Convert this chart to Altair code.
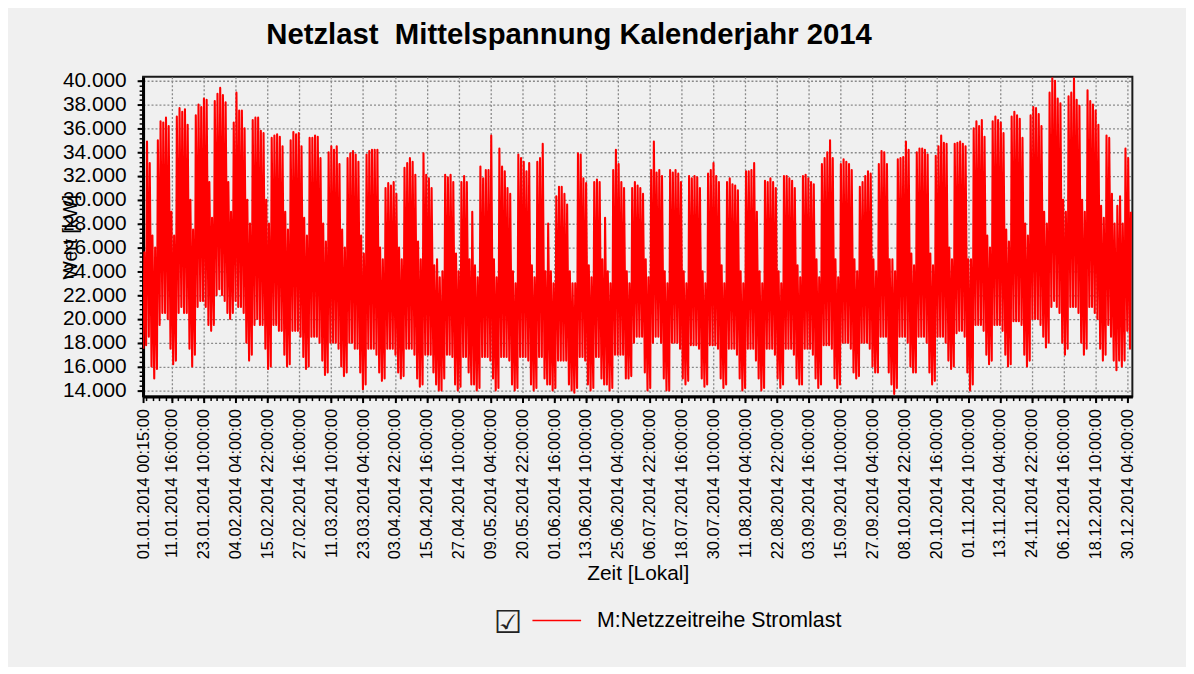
import altair as alt
import pandas as pd
from datetime import datetime, timedelta

# ---- daily maxima / minima (kW) ----
jan_max = [25600, 34900, 33100, 27000, 26000, 35000, 36600, 36500, 36900, 36200, 29000, 27000, 37000, 37700, 37400, 37600,
           36300, 30000, 27500, 37100, 38000, 37800, 38500, 38400, 31500, 28500, 38300, 38900, 39400, 38800, 38200]
jan_min = [17500, 17800, 18500, 16000, 15000, 15800, 19500, 20500, 20500, 20000, 17500, 16200, 16500, 20500, 21000, 20500,
           20500, 17500, 16000, 17000, 21000, 21500, 21500, 21000, 19500, 19000, 19500, 22000, 22500, 22000, 21500]
feb_max = [31500, 29000, 36500, 39000, 37500, 37500, 36000, 30000, 28000, 36700, 36900, 36900, 35800, 35600, 30000, 28000,
           35200, 35400, 35500, 35300, 34500, 29000, 27500, 35000, 35700, 35500, 35600, 34500]
feb_min = [20500, 20000, 20500, 21500, 21000, 21000, 20500, 18000, 16500, 17000, 19500, 20000, 19500, 19500, 17500, 15800,
           16000, 19500, 19500, 19000, 19000, 17000, 16000, 16200, 19000, 19000, 19000, 18500]
mar_max = [28500, 27000, 35200, 35200, 35400, 35300, 33500, 28000, 26500, 34000, 34500, 34200, 34500, 33000, 27500, 26000,
           33500, 33900, 34100, 33800, 33200, 27000, 25500, 33800, 34100, 34200, 34200, 34200, 26000, 25000, 31000]
mar_min = [16800, 15800, 16000, 18500, 18500, 18500, 18000, 16500, 15300, 15500, 18000, 18000, 18000, 17500, 16000, 15200,
           15500, 18000, 18000, 17500, 17500, 15500, 14100, 14500, 17500, 17500, 17500, 17000, 15500, 14800, 15000]
apr_max = [31400, 31200, 31500, 30500, 26000, 25000, 32700, 33100, 33500, 33200, 32100, 26500, 25000, 33900, 32100, 31800,
           31000, 24500, 25000, 23500, 24000, 32100, 31900, 32100, 31500, 25500, 24000, 31500, 32000, 31500]
apr_min = [17500, 17500, 17500, 17000, 15500, 15000, 15200, 17500, 17500, 17500, 17000, 15000, 14300, 14500, 17000, 17000,
           17000, 15500, 14500, 14000, 14000, 15000, 17000, 17000, 16800, 14500, 14000, 14300, 16800, 16800]
may_max = [25000, 29000, 24500, 23500, 32800, 31800, 32500, 32500, 35400, 25000, 23500, 34300, 32800, 32400, 31000, 30500,
           24000, 23000, 33800, 33500, 33200, 32400, 33100, 24500, 23500, 33200, 33500, 34700, 24000, 28000, 24000]
may_min = [15500, 14500, 14500, 14000, 14200, 16800, 16800, 16800, 16500, 15000, 14000, 14200, 16800, 16800, 16800, 16500,
           14500, 14000, 14200, 16800, 16800, 16800, 16500, 14500, 14000, 14200, 16800, 16800, 15000, 14500, 14500]
jun_max = [23000, 30300, 31100, 31100, 30500, 29600, 24000, 23000, 23000, 33900, 33800, 31800, 31400, 24500, 23500, 31500,
           31700, 31500, 25000, 28500, 24000, 23000, 32500, 34200, 33000, 31500, 31000, 24000, 23000, 31000]
jun_min = [14000, 14200, 16500, 16500, 16500, 16500, 14500, 14000, 13800, 14200, 16800, 16800, 16500, 14500, 14000, 14200,
           16800, 16800, 15000, 14500, 14500, 14000, 14200, 17000, 17000, 17000, 17000, 15000, 15000, 15200]
jul_max = [31500, 31200, 31000, 30500, 25000, 23500, 32500, 34900, 32300, 32500, 32000, 24000, 23000, 32500, 32300, 32500,
           32200, 31500, 24000, 23000, 32000, 31800, 32000, 31900, 31000, 24000, 23000, 32200, 32500, 33100, 32000]
jul_min = [18000, 18500, 18500, 18500, 15500, 14000, 14200, 18000, 18500, 18500, 18000, 15000, 14000, 14000, 18000, 18000,
           18000, 17500, 15000, 14500, 14800, 17800, 17800, 17800, 17500, 15000, 14300, 14500, 17800, 17800, 17800]
aug_max = [31500, 24500, 23000, 31500, 31800, 31300, 31200, 30800, 24000, 23000, 32400, 32400, 32500, 33100, 29000, 24000,
           23000, 31600, 31500, 31800, 31500, 31000, 24000, 23000, 32000, 32000, 31800, 31600, 31000, 24500, 23500]
aug_min = [17500, 15000, 14200, 14500, 17500, 17500, 17500, 17000, 15000, 14000, 14200, 17500, 17500, 17500, 16500, 15000,
           14000, 14200, 17500, 17500, 17500, 17000, 15000, 14200, 14500, 17500, 17500, 17500, 17000, 15000, 14500]
sep_max = [32000, 32100, 31800, 31500, 31300, 25000, 23500, 33000, 33500, 34000, 35000, 33500, 25000, 23500, 33000, 33400,
           33200, 33000, 32500, 25000, 24000, 31100, 31500, 32000, 32400, 32200, 25000, 24000, 33000, 34100]
sep_min = [14500, 17500, 17500, 17500, 17000, 15000, 14200, 14500, 17800, 17800, 17800, 17500, 15000, 14200, 14500, 18000,
           18000, 18000, 17500, 15500, 15000, 15200, 18000, 18000, 18000, 17500, 16000, 15500, 15500, 18500]
oct_max = [34000, 33000, 25000, 25000, 24000, 33400, 33500, 33600, 34900, 34200, 25500, 24500, 34000, 34300, 34300, 34200,
           33800, 25500, 24500, 33700, 34500, 35400, 34800, 34700, 26000, 25000, 34700, 34800, 34900, 34700, 34500]
oct_min = [18500, 18500, 15500, 14500, 13700, 14200, 18500, 18500, 18500, 18000, 16000, 15500, 15500, 18500, 18500, 18500,
           18000, 15500, 14500, 14800, 18500, 18500, 18500, 18000, 16500, 15800, 16000, 18800, 19000, 19000, 18500]
nov_max = [25000, 25000, 36000, 36600, 36200, 36700, 35300, 27000, 26000, 36600, 37000, 36700, 36500, 35600, 27500, 26500,
           37000, 37400, 37100, 36800, 35200, 28000, 27000, 37100, 37800, 37700, 37200, 36200, 29000, 28000]
nov_min = [15500, 14000, 14500, 19500, 19500, 19500, 19000, 17000, 16200, 16500, 19500, 19500, 19500, 19000, 17000, 16000,
           16200, 19800, 19800, 19800, 19500, 17000, 16000, 16500, 20000, 20000, 20000, 19500, 18500, 17600]
dec_max = [39000, 40200, 40000, 38500, 38100, 30000, 29000, 38700, 39000, 40200, 38400, 37900, 30000, 29000, 39200, 38300,
           38000, 37500, 36300, 29500, 28500, 35400, 35200, 30500, 28000, 29500, 30300, 28000, 34300, 33500, 29000]
dec_min = [18000, 21000, 21500, 21000, 20500, 18000, 17000, 17500, 21000, 21000, 21000, 20500, 18000, 17000, 17500, 21000,
           21000, 20500, 20000, 17500, 16500, 17000, 19500, 18500, 16500, 15700, 16500, 16000, 16500, 19000, 17500]

series_name = "M:Netzzeitreihe Stromlast"

x_tick_labels = [
    "01.01.2014 00:15:00", "11.01.2014 16:00:00", "23.01.2014 10:00:00", "04.02.2014 04:00:00",
    "15.02.2014 22:00:00", "27.02.2014 16:00:00", "11.03.2014 10:00:00", "23.03.2014 04:00:00",
    "03.04.2014 22:00:00", "15.04.2014 16:00:00", "27.04.2014 10:00:00", "09.05.2014 04:00:00",
    "20.05.2014 22:00:00", "01.06.2014 16:00:00", "13.06.2014 10:00:00", "25.06.2014 04:00:00",
    "06.07.2014 22:00:00", "18.07.2014 16:00:00", "30.07.2014 10:00:00", "11.08.2014 04:00:00",
    "22.08.2014 22:00:00", "03.09.2014 16:00:00", "15.09.2014 10:00:00", "27.09.2014 04:00:00",
    "08.10.2014 22:00:00", "20.10.2014 16:00:00", "01.11.2014 10:00:00", "13.11.2014 04:00:00",
    "24.11.2014 22:00:00", "06.12.2014 16:00:00", "18.12.2014 10:00:00", "30.12.2014 04:00:00",
]
y_tick_values = [14000, 16000, 18000, 20000, 22000, 24000, 26000, 28000, 30000, 32000, 34000, 36000, 38000, 40000]

# ---- build table ----
months = [(1, jan_max, jan_min), (2, feb_max, feb_min), (3, mar_max, mar_min), (4, apr_max, apr_min),
          (5, may_max, may_min), (6, jun_max, jun_min), (7, jul_max, jul_min), (8, aug_max, aug_min),
          (9, sep_max, sep_min), (10, oct_max, oct_min), (11, nov_max, nov_min), (12, dec_max, dec_min)]
rows = []
for m, mx, mn in months:
    for i, (hi, lo) in enumerate(zip(mx, mn)):
        d = datetime(2014, m, i + 1)
        rows.append({"t": (d + timedelta(hours=3)).strftime("%Y-%m-%dT%H:%M:%S"), "v": lo, "s": series_name})
        rows.append({"t": (d + timedelta(hours=11)).strftime("%Y-%m-%dT%H:%M:%S"), "v": hi, "s": series_name})
df = pd.DataFrame(rows)


def dt(d):
    return alt.DateTime(year=d.year, month=d.month, date=d.day, hours=d.hour, minutes=d.minute)


major_dt = [datetime.strptime(s, "%d.%m.%Y %H:%M:%S") for s in x_tick_labels]
major_vals = [dt(d) for d in major_dt]
# minor ticks: 5 subdivisions of the major interval
step = (major_dt[2] - major_dt[1]) / 5
minor_vals = []
t = major_dt[1]
while t > datetime(2014, 1, 1, 0, 15):
    t -= step
t += step
while t < datetime(2015, 1, 1):
    minor_vals.append(dt(t))
    t += step
minor_y = list(range(14000, 40400, 400))

x_scale = alt.Scale(domain=[alt.DateTime(year=2014, month=1, date=1, hours=0, minutes=15),
                            alt.DateTime(year=2015, month=1, date=1, hours=0, minutes=0)])
y_scale = alt.Scale(domain=[13478, 40334], nice=False, zero=False)

FONT = "Liberation Sans"

line = alt.Chart(df).mark_line(strokeWidth=2.1, strokeJoin="round", clip=True).encode(
    x=alt.X("t:T", scale=x_scale,
            axis=alt.Axis(values=major_vals, format="%d.%m.%Y %H:%M:%S", formatType="time",
                          labelAngle=-90, labelFont=FONT, labelFontSize=16.5, labelColor="black",
                          labelPadding=6, labelOverlap=False, labelFlush=False, labelLimit=400,
                          tickSize=6, tickWidth=2, tickColor="black",
                          domainColor="black", domainWidth=3,
                          grid=True, gridColor="#8a8a8a", gridDash=[2, 2], gridWidth=1.3,
                          title="Zeit [Lokal]", titleFont=FONT, titleFontSize=21, titleFontWeight="normal",
                          titleColor="black", titleY=178, titleBaseline="middle")),
    y=alt.Y("v:Q", scale=y_scale,
            axis=alt.Axis(values=y_tick_values, labelExpr="replace(format(datum.value, ',.0f'), ',', '.')",
                          labelFont=FONT, labelFontSize=21, labelColor="black", labelPadding=11,
                          tickSize=6, tickWidth=2, tickColor="black",
                          domainColor="black", domainWidth=3,
                          grid=True, gridColor="#8a8a8a", gridDash=[2, 2], gridWidth=1.3,
                          title="Wert [kW]", titleFont=FONT, titleFontSize=19.5, titleFontWeight="normal",
                          titleColor="black", titleX=-73, titleY=161, titleAngle=270,
                          titleAlign="center", titleBaseline="middle")),
    color=alt.Color("s:N", scale=alt.Scale(range=["#FF0000"]),
                    legend=alt.Legend(title=["", "\u2611"], titleOrient="left", titleFont="DejaVu Sans",
                                      titleFontSize=32, titleFontWeight="normal", titleColor="#222222",
                                      titleAnchor="middle", titleBaseline="middle", titleLineHeight=20,
                                      titlePadding=9, orient="none", legendX=353, legendY=522,
                                      symbolType="stroke", symbolSize=2401, symbolStrokeWidth=1.5,
                                      labelFont=FONT, labelFontSize=21.5, labelColor="black",
                                      labelOffset=15, labelLimit=0, padding=0)),
)

minor = alt.Chart(df).mark_line(strokeOpacity=0).encode(
    x=alt.X("t:T", scale=x_scale,
            axis=alt.Axis(values=minor_vals, orient="bottom", labels=False, grid=False, domain=False,
                          tickSize=4, tickWidth=1.5, tickColor="black", title=None)),
    y=alt.Y("v:Q", scale=y_scale,
            axis=alt.Axis(values=minor_y, orient="left", labels=False, grid=False, domain=False,
                          tickSize=4, tickWidth=1.5, tickColor="black", title=None)),
)

chart = alt.layer(line, minor).resolve_axis(x="independent", y="independent").properties(
    width=996, height=322,
    title=alt.TitleParams(text="Netzlast\u00a0 Mittelspannung Kalenderjahr 2014", font=FONT, fontSize=29.5,
                          fontWeight="bold", color="black", anchor="start", frame="group", dx=124,
                          offset=32, dy=35, baseline="alphabetic"),
    autosize=alt.AutoSizeParams(type="none"),
    padding={"left": 136, "top": 67, "right": 54, "bottom": 270},
    background="#F0F0F0",
).configure_view(fill="#F0F0F0", stroke="#1a1a1a", strokeWidth=2)

chart.save("out.html", embed_options={"renderer": "svg", "actions": False})
